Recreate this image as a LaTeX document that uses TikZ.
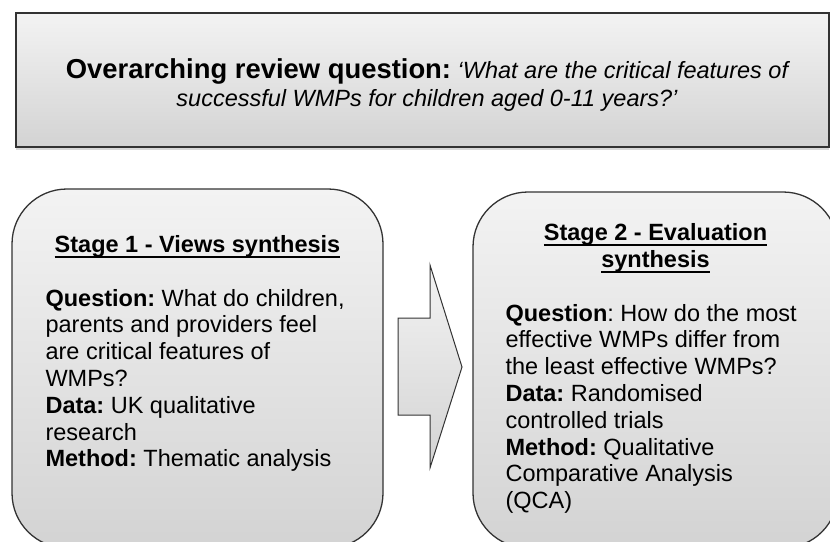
\documentclass[tikz,border=0pt]{standalone}
\usepackage{fontspec}
\setmainfont{Liberation Sans}
\usetikzlibrary{positioning,shadows}
\definecolor{boxtop}{HTML}{F3F3F3}
\definecolor{boxbot}{HTML}{D3D3D3}
\definecolor{edge}{HTML}{333333}
\newcommand{\headul}[1]{\setbox0\hbox{#1}\rlap{\rule[-5.5pt]{\wd0}{1.4pt}}\box0}
\frenchspacing
\begin{document}
\begin{tikzpicture}[x=1pt,y=-1pt,
  panel/.style={draw=edge, line width=1.3pt, top color=boxtop, bottom color=boxbot},
  stagebox/.style={panel, rounded corners=55pt},
  headtext/.style={inner sep=0pt, align=center, font=\fontsize{23.5}{26.8}\selectfont\bfseries},
  bodytext/.style={inner sep=0pt, align=left, font=\fontsize{23.5}{26.8}\selectfont}]
\useasboundingbox (0,0) rectangle (830,541);
% overarching question
\node[panel, minimum width=813pt, minimum height=134pt,
  drop shadow={shadow xshift=0pt, shadow yshift=-3pt, opacity=.3}] (review) at (422.5,80) {};
\node[inner sep=0pt, align=center, font=\fontsize{23.5}{28}\selectfont, anchor=north] (reviewq) at (427,58)
  {{\fontsize{27.4}{28}\selectfont\bfseries Overarching review question:} \itshape ‘What are the critical features of\\
   \itshape successful WMPs for children aged 0-11 years?’};
% stage boxes
\node[stagebox, minimum width=371pt, minimum height=359pt] (stage1) at (197.5,368.5) {};
\node[stagebox, minimum width=365pt, minimum height=356pt] (stage2) at (655.5,370) {};
% stage 1 text
\node[headtext, anchor=base] (s1head) at (197.5,252) {\headul{Stage 1 - Views synthesis}};
\node[bodytext, anchor=north west] (s1body) at ([shift={(34,100.5)}]stage1.north west)
  {\textbf{Question:} What do children,\\
   parents and providers feel\\
   are critical features of\\
   WMPs?\\
   \textbf{Data:} UK qualitative\\
   research\\
   \textbf{Method:} Thematic analysis};
% stage 2 text
\node[headtext, anchor=north] (s2head) at (655.5,223) {\headul{Stage 2 - Evaluation}\\ \headul{synthesis}};
\node[bodytext, anchor=north west] (s2body) at ([shift={(33,112.5)}]stage2.north west)
  {\textbf{Question}: How do the most\\
   effective WMPs differ from\\
   the least effective WMPs?\\
   \textbf{Data:} Randomised\\
   controlled trials\\
   \textbf{Method:} Qualitative\\
   Comparative Analysis\\
   (QCA)};
% block arrow
\draw[panel, line width=1pt] (398,318) -- (430,318) -- (430,265) -- (462,367)
  -- (430,468) -- (430,415) -- (398,415) -- cycle;
\end{tikzpicture}
\end{document}
